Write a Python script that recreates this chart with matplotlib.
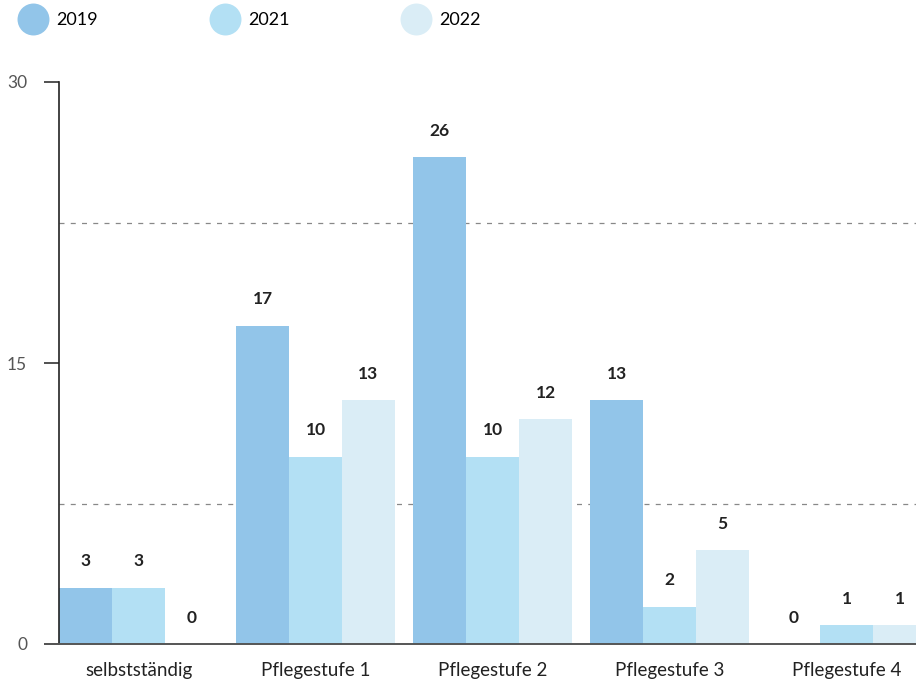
import numpy as np
import matplotlib.pyplot as plt
from matplotlib.lines import Line2D

plt.rcParams["font.family"] = ["Lato", "DejaVu Sans"]

# data
categories = ["selbstständig", "Pflegestufe 1", "Pflegestufe 2", "Pflegestufe 3", "Pflegestufe 4"]
years = ["2019", "2021", "2022"]
v2019 = [3, 17, 26, 13, 0]
v2021 = [3, 10, 10, 2, 1]
v2022 = [0, 13, 12, 5, 1]
colors = ["#92c5e9", "#b3e0f4", "#daedf6"]

fig = plt.figure(figsize=(9.16, 6.81), dpi=100)
ax = fig.add_axes([59 / 916, 37 / 681, 1 - 59 / 916, 562 / 681])

step = 3.34
x = np.arange(len(categories)) * step
for i, vals in enumerate([v2019, v2021, v2022]):
    pos = x + (i - 1)
    ax.bar(pos, vals, width=1.0, color=colors[i], zorder=2)
    for p, v in zip(pos, vals):
        ax.annotate(str(v), xy=(p, v), xytext=(0, 19), textcoords="offset points",
                    ha="center", va="center", fontsize=12.5, fontweight="bold",
                    color="#222222", clip_on=False)

ax.set_xlim(-1.5, -1.5 + 857 / 53)
ax.set_ylim(0, 30)
ax.set_yticks([0, 15, 30])
ax.set_yticklabels(["0", "15", "30"], fontsize=12.5, color="#555555")
ax.set_xticks(x)
ax.set_xticklabels(categories, fontsize=13.5, color="#222222")
ax.tick_params(axis="x", length=0, pad=13)
ax.tick_params(axis="y", length=11, width=1.2, color="#333333", pad=12)

for yv in [7.5, 22.5]:
    ax.axhline(yv, color="#888888", lw=0.9, ls=(0, (4, 5)), zorder=1)

ax.spines["top"].set_visible(False)
ax.spines["right"].set_visible(False)
ax.spines["left"].set_color("#222222")
ax.spines["left"].set_linewidth(1.2)
ax.spines["bottom"].set_color("#555555")
ax.spines["bottom"].set_linewidth(1.4)
ax.spines["bottom"].set_zorder(3)

# legend
handles = [Line2D([], [], marker="o", ls="", markersize=23, color=c, markeredgewidth=0) for c in colors]
fig.legend(handles, years, loc="center left", bbox_to_anchor=(20.4 / 916, 1 - 20 / 681),
           ncol=3, frameon=False, fontsize=13, handlelength=1.4, handletextpad=0.6,
           columnspacing=6.3, borderpad=0, borderaxespad=0)

fig.savefig("out.png", dpi=100)
